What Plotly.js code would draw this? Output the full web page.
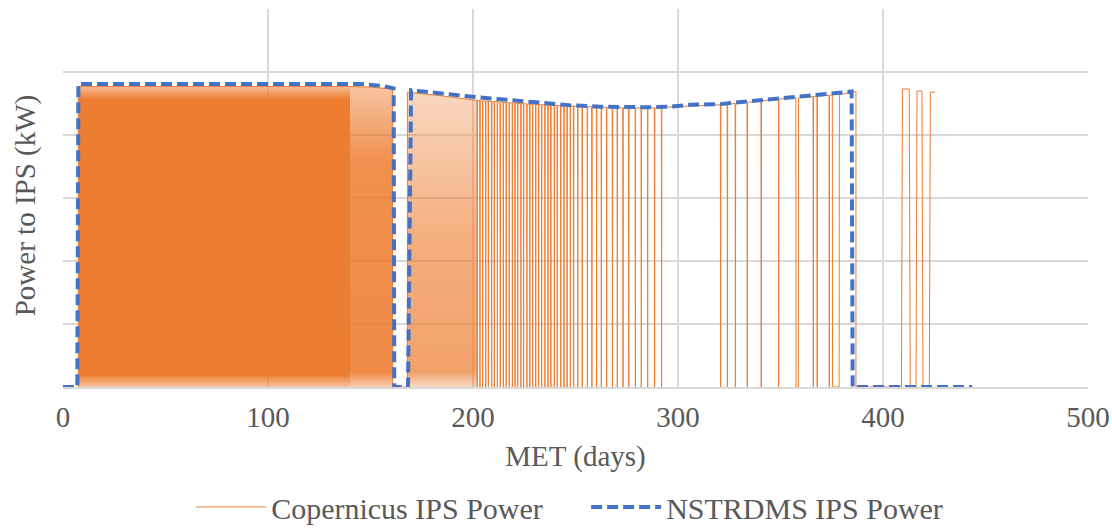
<!DOCTYPE html>
<html>
<head>
<meta charset="utf-8">
<script src="https://cdn.plot.ly/plotly-3.0.1.min.js"></script>
<style>html,body{margin:0;padding:0;background:#fff;}#chart{width:1112px;height:529px;}</style>
</head>
<body>
<div id="chart"></div>
<script>
// ---- Data ----
const xTickVals = [0, 100, 200, 300, 400, 500];
const xTickText = ['0', '100', '200', '300', '400', '500'];

// NSTRDMS IPS Power (blue dashed)
const nstrDays = [0, 7, 7.5, 145, 156, 161.3, 161.6, 168.3, 169.8, 202, 248, 262, 285, 296, 306, 320.5, 343, 359.5, 375.6, 384.7, 385.2, 443.5];
const nstrKW   = [0, 0, 4.81, 4.81, 4.78, 4.74, 0, 0, 4.71, 4.60, 4.47, 4.45, 4.44, 4.45, 4.48, 4.49, 4.56, 4.61, 4.65, 4.69, 0, 0];

// Copernicus IPS Power (orange): dense-orbit bands (top envelope)
const bandADays = [7.5, 140];
const bandAKW   = [4.77, 4.77];
const bandA2Days = [140, 150, 160.8];
const bandA2KW   = [4.77, 4.76, 4.73];
const bandBDays = [168.0, 185, 202.1];
const bandBKW   = [4.68, 4.62, 4.55];

// Copernicus: individual eclipse dips (day, level before dip, days at zero)
const dipDays = [202.1, 203.4, 204.7, 206.2, 207.5, 209.1, 210.4, 211.9, 213.3, 214.8, 216.2, 217.7, 219.2, 220.5, 221.8, 223.4, 224.7, 226.3, 227.7, 229.1, 230.6, 232.0, 233.5, 235.1, 236.6, 238.0, 239.7, 241.1, 242.8, 244.4, 245.9, 247.5, 249.1, 251.1, 253.3, 255.8, 258.0, 260.3, 262.6, 265.2, 268.0, 270.4, 273.2, 276.0, 279.2, 282.1, 285.2, 288.6, 292.0, 320.8, 324.1, 328.0, 333.8, 340.6, 349.1, 357.6, 366.0, 367.9, 373.8, 375.4];
const dipKW   = [4.55, 4.55, 4.54, 4.54, 4.54, 4.53, 4.53, 4.53, 4.52, 4.52, 4.52, 4.51, 4.51, 4.51, 4.50, 4.50, 4.50, 4.49, 4.49, 4.49, 4.49, 4.48, 4.48, 4.48, 4.47, 4.47, 4.47, 4.47, 4.46, 4.46, 4.46, 4.46, 4.46, 4.45, 4.45, 4.45, 4.45, 4.44, 4.44, 4.44, 4.44, 4.44, 4.43, 4.43, 4.43, 4.43, 4.43, 4.43, 4.44, 4.48, 4.49, 4.50, 4.52, 4.54, 4.57, 4.59, 4.61, 4.62, 4.63, 4.64];
const dipLen  = [0, 0, 0, 0, 0, 0, 0, 0, 0, 0, 0, 0, 0, 0, 0, 0, 0, 0, 0, 0, 0, 0, 0, 0, 0, 0, 0, 0, 0, 0, 0, 0, 0, 0, 0, 0, 0, 0, 0, 0, 0, 0, 0, 0, 0, 0, 0, 0, 0, 0, 0, 0, 0, 0, 0, 1.1, 0, 0, 0, 3.2];

// Copernicus: end of mission level, then late short pulses
const finalDropDay = 386.8, finalDropKW = 4.69;
const pulseUp   = [409.0, 416.1, 422.6];
const pulseDown = [412.8, 419.0, 425.4];
const pulseKW   = [4.73, 4.70, 4.68];

// ---- Build the orange line path ----
const ox = [], oy = [];
function p(x, y) { ox.push(x); oy.push(y); }
p(7.5, 0);
bandADays.forEach((d, i) => p(d, bandAKW[i]));
bandA2Days.forEach((d, i) => p(d, bandA2KW[i]));
p(bandA2Days[bandA2Days.length - 1], 0);
p(bandBDays[0], 0);
bandBDays.slice(0, 2).forEach((d, i) => p(d, bandBKW[i]));
const hw = 0.12;
dipDays.forEach((d, i) => {
  p(d - hw, dipKW[i]); p(d, 0); p(d + dipLen[i], 0); p(d + dipLen[i] + hw, dipKW[i]);
});
p(finalDropDay, finalDropKW); p(finalDropDay, 0);
pulseUp.forEach((u, i) => {
  p(u, 0); p(u + 0.5, pulseKW[i]); p(pulseDown[i], pulseKW[i]);
  if (i < pulseUp.length - 1) p(pulseDown[i] + 0.5, 0);
});

const OR = '237,125,49';
function band(xs, ys, scale) {
  return {
    x: xs, y: ys, type: 'scatter', mode: 'lines', line: {width: 0},
    fill: 'tozeroy', showlegend: false, hoverinfo: 'skip',
    fillgradient: {type: 'vertical', start: 0, stop: 4.8, colorscale: scale}
  };
}

const traces = [
  band(bandADays, bandAKW, [[0, `rgba(${OR},0.45)`], [0.04, `rgba(${OR},1)`], [0.95, `rgba(${OR},1)`], [1, `rgba(${OR},0.45)`]]),
  band(bandA2Days, bandA2KW, [[0, `rgba(${OR},0.4)`], [0.05, `rgba(${OR},0.9)`], [0.75, `rgba(${OR},0.85)`], [1, `rgba(${OR},0.45)`]]),
  band(bandBDays, bandBKW, [[0, `rgba(${OR},0.3)`], [0.05, `rgba(${OR},0.72)`], [0.5, `rgba(${OR},0.62)`], [0.8, `rgba(${OR},0.42)`], [1, `rgba(${OR},0.3)`]]),
  {
    x: ox, y: oy, type: 'scatter', mode: 'lines', name: 'Copernicus IPS Power',
    line: {color: '#ED7D31', width: 1}
  },
  {
    x: nstrDays, y: nstrKW, type: 'scatter', mode: 'lines', name: 'NSTRDMS IPS Power',
    line: {color: '#4472C4', width: 4, dash: '11px,5px'}
  }
];

const font = {family: 'Liberation Serif, Times New Roman, serif', color: '#595959', size: 29};
const legendFont = {family: 'Liberation Serif, Times New Roman, serif', color: '#595959', size: 30};
const layout = {
  width: 1112, height: 529,
  margin: {l: 63, r: 24, t: 9, b: 142, autoexpand: false},
  paper_bgcolor: '#fff', plot_bgcolor: '#fff',
  font: font,
  xaxis: {
    range: [0, 500], tickvals: xTickVals, ticktext: xTickText,
    showgrid: true, gridcolor: '#d9d9d9', gridwidth: 1.5,
    zeroline: false, showline: true, linecolor: '#d9d9d9', linewidth: 1.5,
    ticks: '', ticklabelstandoff: 4, tickfont: font,
    title: {text: 'MET (days)', font: font, standoff: 13}
  },
  yaxis: {
    range: [0, 6], dtick: 1, showticklabels: false,
    showgrid: true, gridcolor: '#d9d9d9', gridwidth: 1.5,
    zeroline: false, showline: false, ticks: ''
  },
  annotations: [{
    text: 'Power to IPS (kW)', textangle: -90, showarrow: false,
    xref: 'paper', yref: 'paper', x: -0.037, y: 0.481, xanchor: 'center', yanchor: 'middle',
    font: font
  }],
  legend: {orientation: 'h', x: 0.125, xanchor: 'left', y: -0.386, yanchor: 'bottom',
           font: legendFont, itemwidth: 70, entrywidth: 310, entrywidthmode: 'pixels'},
  showlegend: true
};

Plotly.newPlot('chart', traces, layout, {displayModeBar: false, staticPlot: true});
</script>
</body>
</html>
